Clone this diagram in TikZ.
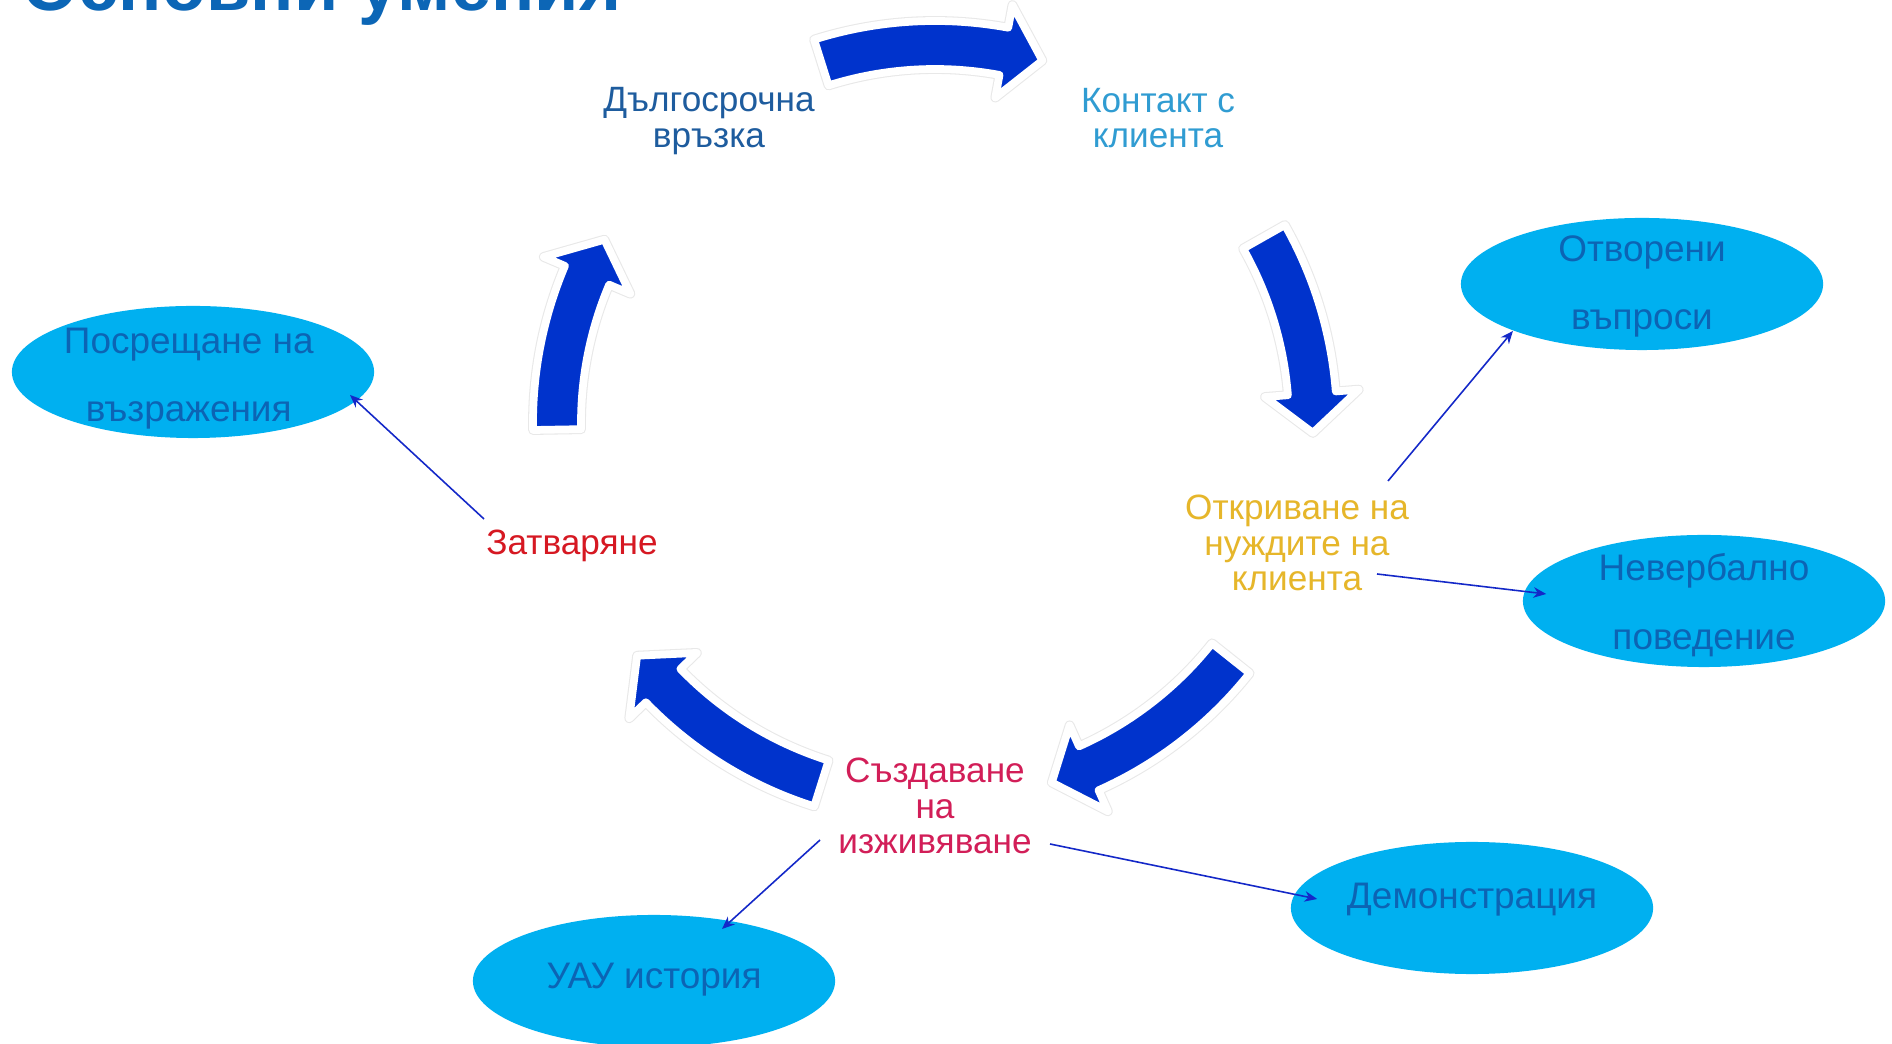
\documentclass[tikz,border=0pt]{standalone}
\usepackage{fontspec}
\setmainfont{Liberation Sans}
\usetikzlibrary{arrows.meta,shapes.geometric,calc}
\definecolor{titleblue}{RGB}{12,102,182}
\definecolor{cycleblue}{RGB}{0,51,204}
\definecolor{skillfill}{RGB}{0,176,240}
\definecolor{skilltext}{RGB}{12,100,180}
\definecolor{linkblue}{RGB}{20,40,200}
\definecolor{longcol}{RGB}{30,92,158}
\definecolor{contactcol}{RGB}{48,156,210}
\definecolor{needcol}{RGB}{230,182,42}
\definecolor{expcol}{RGB}{210,30,88}
\definecolor{closecol}{RGB}{214,24,34}
\begin{document}
\begin{tikzpicture}[x=0.01cm,y=0.01cm]
        \tikzstyle{stage}=[align=center,font=\fontsize{10pt}{10pt}\selectfont,inner sep=2pt]
        \tikzstyle{skill}=[ellipse,fill=skillfill,minimum width=3.62cm,minimum height=1.32cm,inner sep=0pt]
        \tikzstyle{skilltxt}=[text=skilltext,align=center,inner sep=0pt,font=\fontsize{10.5pt}{19.4pt}\selectfont]
        \tikzstyle{link}=[draw=linkblue,line width=0.45pt,-{Stealth[length=3.6pt,width=3pt]}]
        \tikzstyle{cyclearrow}=[fill=cycleblue,draw=white,line width=2.2pt,line join=round,preaction={draw=black!9,line width=2.8pt,line join=round}]
       \fill[white] (0,0) rectangle (1892,1043);
       \clip (0,0) rectangle (1892,1043);
       \useasboundingbox (0,0) rectangle (1892,1043);
       % title, cut at the top edge
       \node [anchor=base west,text=titleblue,font=\fontsize{20.5pt}{20.5pt}\selectfont\bfseries,inner sep=0pt] (title) at (22,1032) {Основни умения};
       % cycle arrows
       \begin{scope}[shift={(935,620)}]
         \foreach \a/\b in {107.5/73.5,29.5/-1.5,-38.5/-72,-107.5/-142,181/151}{
           \pgfmathsetmacro{\h}{\b+6}
           \draw[cyclearrow] (\a:402) arc[start angle=\a,end angle=\h,radius=402] -- (\h:425) -- (\b:378) -- (\h:331) -- (\h:354) arc[start angle=\h,end angle=\a,radius=354] -- cycle;
         }
       \end{scope}
       % stages
       \node [stage,text=longcol] (long) at (709,922) {Дългосрочна\\връзка};
       \node [stage,text=contactcol] (contact) at (1158,925) {Контакт с\\клиента};
       \node [stage,text=needcol] (need) at (1297,500) {Откриване на\\нуждите на\\клиента};
       \node [stage,text=expcol] (exp) at (935,237) {Създаване\\на\\изживяване};
       \node [stage,text=closecol] (close) at (572,497) {Затваряне};
       % skills
       \node [skill,label={[skilltxt,yshift=-0.6pt]center:Отворени\\въпроси}] (open) at (1642,759) {};
       \node [skill,label={[skilltxt,yshift=-1.2pt]center:Невербално\\поведение}] (nonverb) at (1704,442) {};
       \node [skill,label={[skilltxt,yshift=2.4pt]center:Демонстрация}] (demo) at (1472,135) {};
       \node [skill,label={[skilltxt,yshift=0.3pt]center:УАУ история}] (uau) at (654,62) {};
       \node [skill,label={[skilltxt,yshift=-1.8pt,xshift=-1.2pt]center:Посрещане на\\възражения}] (obj) at (193,671) {};
       % links
       \draw[link] ($(need.center)+(91,62)$) -- (open.200);
       \draw[link] ($(need.center)+(80,-31)$) -- ($(nonverb.west)+(24,7)$);
       \draw[link] ($(exp.center)+(115,-38)$) -- ($(demo.west)+(27,9)$);
       \draw[link] ($(exp.center)+(-115,-34)$) -- ($(uau.center)+(68,52)$);
       \draw[link] ($(close.center)+(-88,27)$) -- ($(obj.center)+(157,-23)$);
\end{tikzpicture}
\end{document}
